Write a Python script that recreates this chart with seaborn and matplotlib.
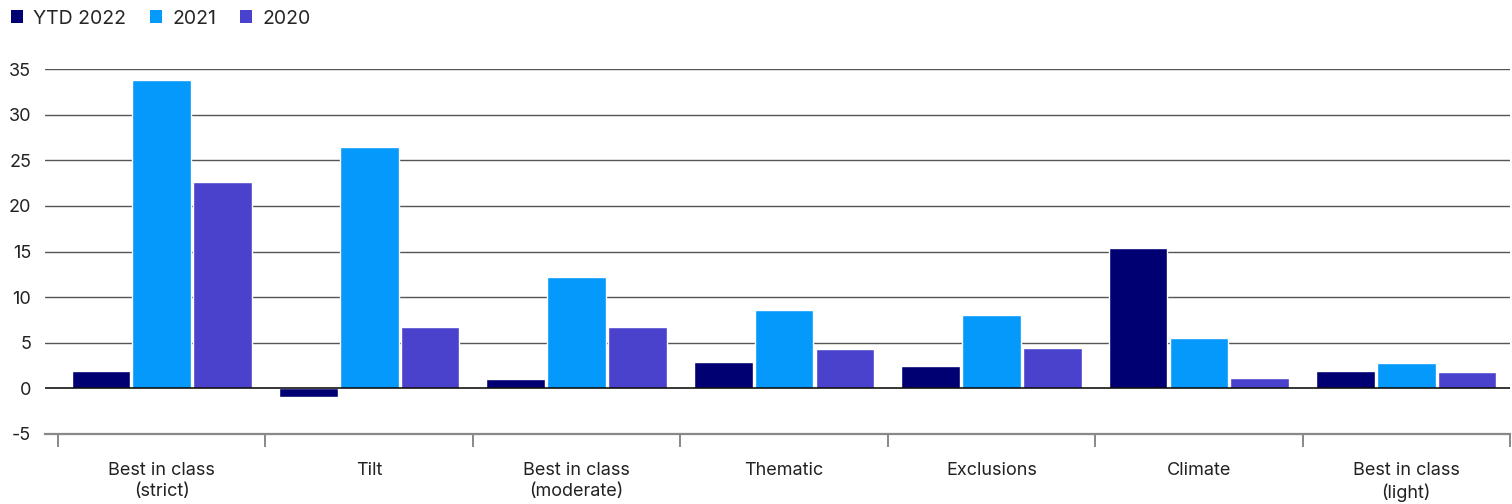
import matplotlib
matplotlib.use("Agg")
import matplotlib.pyplot as plt
import seaborn as sns
import pandas as pd
import numpy as np
from matplotlib.patches import Patch

categories = ["Best in class\n(strict)", "Tilt", "Best in class\n(moderate)", "Thematic",
              "Exclusions", "Climate", "Best in class\n(light)"]
series_names = ["YTD 2022", "2021", "2020"]
ytd_2022 = [1.9, -0.95, 1.0, 2.85, 2.5, 15.35, 1.9]
y_2021 = [33.8, 26.4, 12.2, 8.55, 8.0, 5.5, 2.75]
y_2020 = [22.6, 6.7, 6.7, 4.3, 4.4, 1.1, 1.75]
colors = ["#000073", "#0599FB", "#4A41CC"]
yticks = [-5, 0, 5, 10, 15, 20, 25, 30, 35]

sns.set_theme(style="white")
plt.rcParams['font.family'] = ['Inter', 'DejaVu Sans']
plt.rcParams['axes.unicode_minus'] = False

rows = []
for name, vals in zip(series_names, [ytd_2022, y_2021, y_2020]):
    for c, v in zip(categories, vals):
        rows.append({"category": c, "series": name, "value": v})
df = pd.DataFrame(rows)

fig = plt.figure(figsize=(15.12, 5.04), dpi=100)
ax = fig.add_axes([45/1512, 1-434/504, (1510-45)/1512, (434-69)/504])

sns.barplot(data=df, x="category", y="value", hue="series", order=categories,
            hue_order=series_names, palette=colors, width=0.88, gap=0.035,
            saturation=1, ax=ax, legend=False, errorbar=None)

ax.set_ylim(-5, 35)
ax.set_xlim(-0.5 - 13/207, 6.5)
ax.set_yticks(yticks)
ax.set_yticklabels([str(t) for t in yticks], fontsize=13, color="#222222")
for t in yticks:
    if t == 0:
        ax.axhline(0, color="#000000", lw=1.1, zorder=3)
    elif t != -5:
        ax.axhline(t, color="#555555", lw=1.0, zorder=0)
ax.set_xlabel("")
ax.set_ylabel("")
for s in ["top", "right", "left"]:
    ax.spines[s].set_visible(False)
ax.spines["bottom"].set_color("#888888")
ax.spines["bottom"].set_linewidth(1.6)
ax.tick_params(axis="y", length=0, pad=10)
ax.tick_params(axis="x", which="major", length=0, pad=20, labelsize=13, labelcolor="#222222")
ax.set_xticks(np.arange(-0.5, 7, 1), minor=True)
ax.tick_params(axis="x", which="minor", bottom=True, length=9, width=1.4, color="#888888",
               direction="out")
for lab in ax.get_xticklabels():
    lab.set_linespacing(1.35)
    lab.set_va("top")

handles = [Patch(facecolor=c, edgecolor="none") for c in colors]
fig.legend(handles, series_names, loc="upper left", bbox_to_anchor=(-0.002, 1.008), ncol=3,
           frameon=False, fontsize=14, handlelength=0.62, handleheight=0.62,
           handletextpad=0.55, columnspacing=1.2, borderaxespad=0.3)

fig.savefig("out.png", dpi=100)
